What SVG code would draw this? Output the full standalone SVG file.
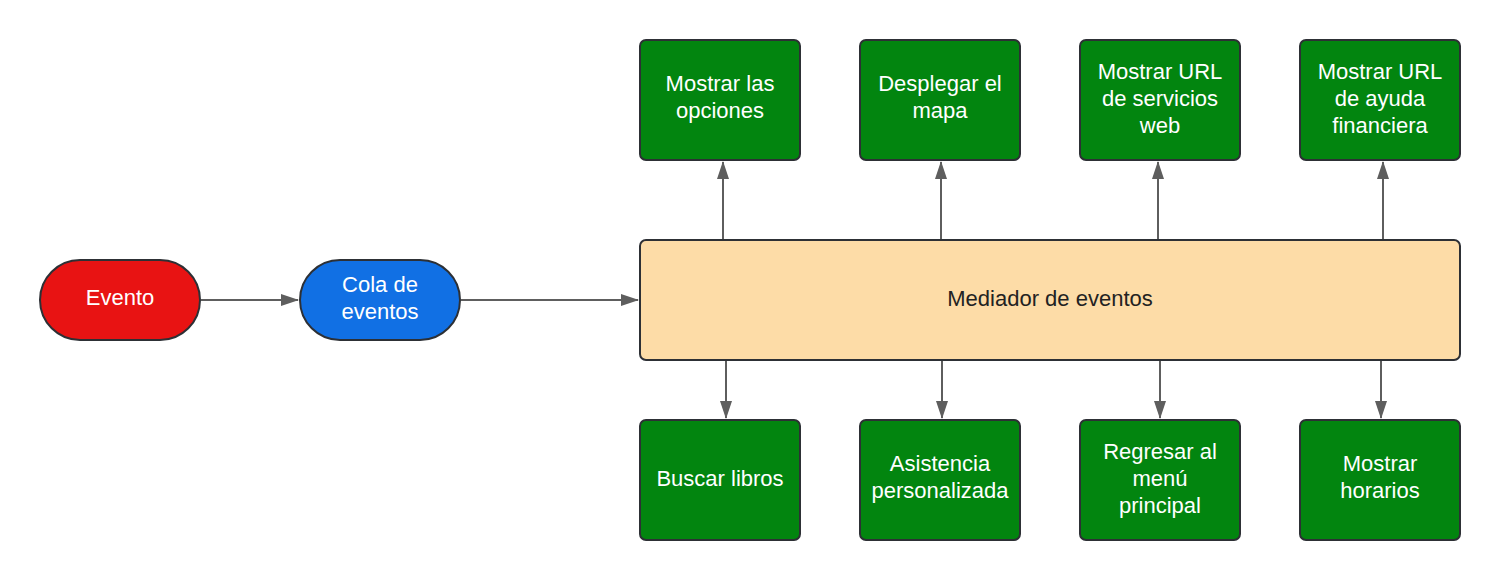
<svg xmlns="http://www.w3.org/2000/svg" width="1500" height="580" viewBox="0 0 1500 580">
<defs>
<style>
.n{stroke:#2d3035;stroke-width:2}
.g{fill:#02850f}
.t{font-family:"Liberation Sans",Arial,sans-serif;font-size:22px;fill:#ffffff;text-anchor:middle}
.d{fill:#222222}
.c{stroke:#5e5e5e;stroke-width:2;fill:none;marker-end:url(#ah)}
</style>
<marker id="ah" viewBox="0 0 18 12" refX="17" refY="6" markerWidth="18" markerHeight="12" markerUnits="userSpaceOnUse" orient="auto">
<path d="M0,0 L18,6 L0,12 Z" fill="#5e5e5e"/>
</marker>
</defs>
<rect width="1500" height="580" fill="#ffffff"/>
<g id="connectors">
<path class="c" d="M201,300 H298"/>
<path class="c" d="M461,300 H638"/>
<path class="c" d="M723,239 V162"/>
<path class="c" d="M941,239 V162"/>
<path class="c" d="M1158,239 V162"/>
<path class="c" d="M1383,239 V162"/>
<path class="c" d="M726,361 V418"/>
<path class="c" d="M942,361 V418"/>
<path class="c" d="M1160,361 V418"/>
<path class="c" d="M1381,361 V418"/>
</g>
<g id="evento">
<rect class="n" x="40" y="260" width="160" height="80" rx="40" fill="#e81313"/>
<text class="t" x="120" y="305">Evento</text>
</g>
<g id="cola">
<rect class="n" x="300" y="260" width="160" height="80" rx="40" fill="#1170e4"/>
<text class="t" x="380" y="292">Cola de</text>
<text class="t" x="380" y="319">eventos</text>
</g>
<g id="mediador">
<rect class="n" x="640" y="240" width="820" height="120" rx="6" fill="#fddca7"/>
<text class="t d" x="1050" y="306">Mediador de eventos</text>
</g>
<g id="mostrar-opciones">
<rect class="n g" x="640" y="40" width="160" height="120" rx="6"/>
<text class="t" x="720" y="91">Mostrar las</text>
<text class="t" x="720" y="118">opciones</text>
</g>
<g id="desplegar-mapa">
<rect class="n g" x="860" y="40" width="160" height="120" rx="6"/>
<text class="t" x="940" y="91">Desplegar el</text>
<text class="t" x="940" y="118">mapa</text>
</g>
<g id="url-servicios">
<rect class="n g" x="1080" y="40" width="160" height="120" rx="6"/>
<text class="t" x="1160" y="79">Mostrar URL</text>
<text class="t" x="1160" y="106">de servicios</text>
<text class="t" x="1160" y="133">web</text>
</g>
<g id="url-ayuda">
<rect class="n g" x="1300" y="40" width="160" height="120" rx="6"/>
<text class="t" x="1380" y="79">Mostrar URL</text>
<text class="t" x="1380" y="106">de ayuda</text>
<text class="t" x="1380" y="133">financiera</text>
</g>
<g id="buscar-libros">
<rect class="n g" x="640" y="420" width="160" height="120" rx="6"/>
<text class="t" x="720" y="486">Buscar libros</text>
</g>
<g id="asistencia">
<rect class="n g" x="860" y="420" width="160" height="120" rx="6"/>
<text class="t" x="940" y="471">Asistencia</text>
<text class="t" x="940" y="498">personalizada</text>
</g>
<g id="regresar">
<rect class="n g" x="1080" y="420" width="160" height="120" rx="6"/>
<text class="t" x="1160" y="459">Regresar al</text>
<text class="t" x="1160" y="486">menú</text>
<text class="t" x="1160" y="513">principal</text>
</g>
<g id="horarios">
<rect class="n g" x="1300" y="420" width="160" height="120" rx="6"/>
<text class="t" x="1380" y="471">Mostrar</text>
<text class="t" x="1380" y="498">horarios</text>
</g>
</svg>
